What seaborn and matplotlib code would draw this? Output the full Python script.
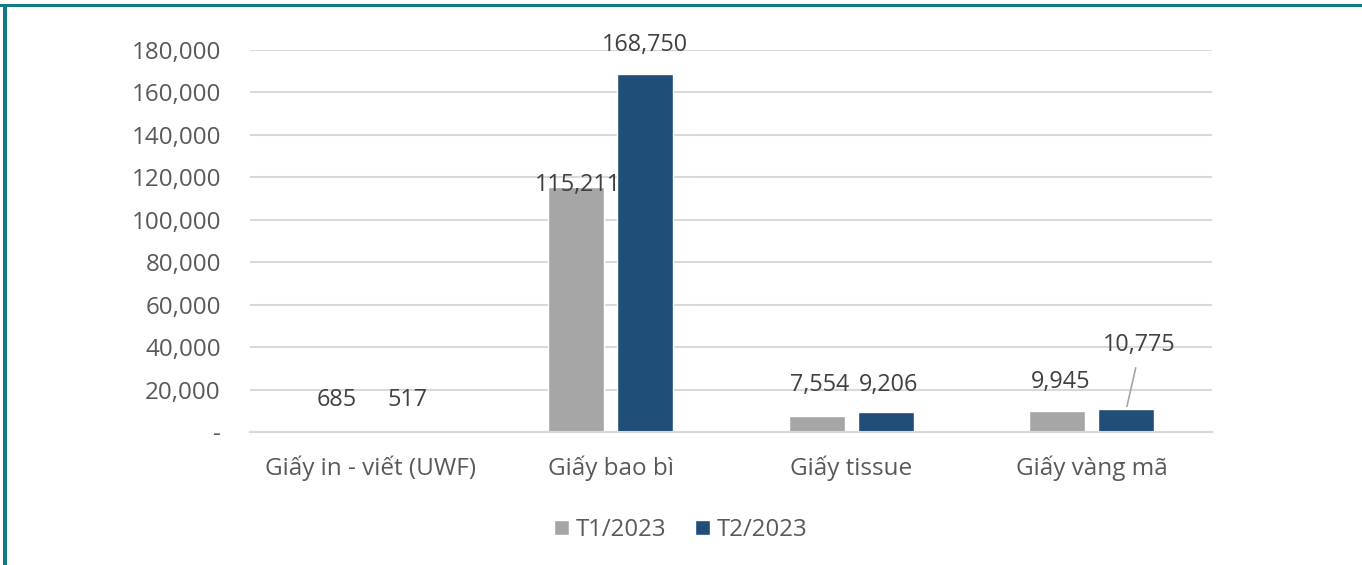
import matplotlib
matplotlib.use("Agg")
import matplotlib.pyplot as plt
from matplotlib.patches import Rectangle
from matplotlib.ticker import FuncFormatter
import seaborn as sns
import pandas as pd

categories = ["Giấy in - viết (UWF)", "Giấy bao bì", "Giấy tissue", "Giấy vàng mã"]
series = ["T1/2023", "T2/2023"]
t1_values = [685, 115211, 7554, 9945]
t2_values = [517, 168750, 9206, 10775]
y_ticks = list(range(0, 180001, 20000))

colors = ["#A6A6A6", "#1F4E79"]
# label offsets in pixels (dx, dy) from the top of each bar
t1_offsets = [(1, 31), (2, 2), (3, 31), (3, 29)]
t2_offsets = [(3, 31), (0, 29), (3, 27), (13, 64)]

sns.set_theme(style="white")
plt.rcParams["font.family"] = ["Open Sans", "DejaVu Sans"]

df = pd.DataFrame({
    "category": categories * 2,
    "series": [series[0]] * 4 + [series[1]] * 4,
    "value": t1_values + t2_values,
})

fig = plt.figure(figsize=(13.62, 5.65), dpi=100)
ax = fig.add_axes([250 / 1362, 1 - 432 / 565, 962 / 1362, 382 / 565])

sns.barplot(data=df, x="category", y="value", hue="series", order=categories,
            hue_order=series, palette=colors, width=0.575, gap=0.19,
            saturation=1, ax=ax, legend=True)

ax.set_ylim(0, 180000)
ax.set_xlim(-0.5, 3.5)
ax.set_yticks(y_ticks)
ax.yaxis.set_major_formatter(FuncFormatter(lambda v, p: "-" if v == 0 else f"{int(v):,}"))
ax.grid(axis="y", color="#D9D9D9", linewidth=1.5)
ax.set_axisbelow(True)
for s in ["top", "left", "right"]:
    ax.spines[s].set_visible(False)
ax.spines["bottom"].set_color("#D9D9D9")
ax.spines["bottom"].set_linewidth(1.5)
ax.tick_params(axis="y", length=0, pad=21, labelsize=17.4, labelcolor="#595959")
ax.tick_params(axis="x", length=0, pad=17, labelsize=17.5, labelcolor="#595959")
ax.set_xlabel("")
ax.set_ylabel("")

all_values = [t1_values, t2_values]
all_offsets = [t1_offsets, t2_offsets]
for cont, vals, offs in zip(ax.containers, all_values, all_offsets):
    for bar, v, (dx, dy) in zip(cont, vals, offs):
        cx = bar.get_x() + bar.get_width() / 2
        ax.annotate(f"{v:,}", xy=(cx, v), xytext=(dx, dy), textcoords="offset pixels",
                    ha="center", va="center", fontsize=16.8, color="#404040")

# leader line for the last label
bar = ax.containers[1][3]
cx = bar.get_x() + bar.get_width() / 2
ax.annotate("", xy=(cx, t2_values[3]), xytext=(10, 44), textcoords="offset pixels",
            arrowprops=dict(arrowstyle="-", color="#A6A6A6", lw=1.2))

handles, labels = ax.get_legend_handles_labels()
ax.get_legend().remove()
fig.legend(handles, labels, loc="center", bbox_to_anchor=(0.5, 1 - 530 / 565), ncol=2,
           frameon=False, fontsize=17.3, handlelength=0.6, handleheight=0.6,
           handletextpad=0.3, columnspacing=1.2, labelcolor="#595959")

# teal frame on top and left
fig.add_artist(Rectangle((0, 1 - 7 / 565), 1, 3.5 / 565, transform=fig.transFigure,
                         color="#127A86", lw=0))
fig.add_artist(Rectangle((3 / 1362, 0), 4 / 1362, 1 - 4 / 565, transform=fig.transFigure,
                         color="#127A86", lw=0))

fig.savefig("out.png", dpi=100)
